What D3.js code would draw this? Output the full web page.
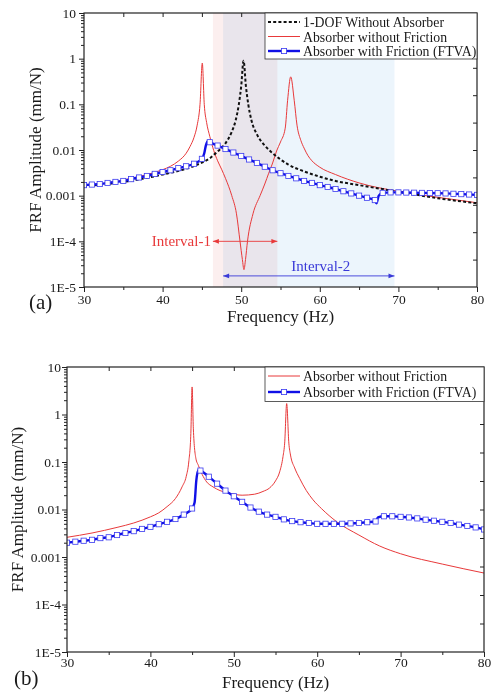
<!DOCTYPE html>
<html lang="en">
<head>
<meta charset="UTF-8">
<title>FRF Amplitude</title>
<script src="https://cdn.jsdelivr.net/npm/d3@7"></script>
<style>
  body { margin: 0; background: #fff; }
  svg text { font-family: "Liberation Serif", "Times New Roman", serif; fill: #1a1a1a; }
</style>
</head>
<body>
<div id="container"></div>
<script>
// ---- data ----
// x tick labels (Hz) and y decades
const xTicks = [30, 40, 50, 60, 70, 80];
const yTicks = [10, 1, 0.1, 0.01, 0.001, 1e-4, 1e-5];
const yTickLabels = ["10", "1", "0.1", "0.01", "0.001", "1E-4", "1E-5"];

// panel (a): 1-DOF without absorber
const aDofFreq = [30, 35, 40, 43, 45, 46, 47, 48, 48.8, 49.3, 49.7, 50.0, 50.3, 50.6, 50.9, 51.3, 52, 53, 54, 55, 56, 58, 60, 62, 65, 70, 75, 80];
const aDofAmp = [0.0016, 0.002, 0.0029, 0.0039, 0.0053, 0.0066, 0.0093, 0.014, 0.025, 0.045, 0.1, 0.25, 0.9, 0.25, 0.1, 0.045, 0.022, 0.0125, 0.0085, 0.0062, 0.0048, 0.0034, 0.0026, 0.0021, 0.0017, 0.00122, 0.00088, 0.00068];

// panel (a): absorber without friction
const aRedFreq = [30, 33, 36, 38, 40, 41, 42, 43, 43.5, 44, 44.4, 44.76, 45.05, 45.3, 45.6, 46, 46.5, 47, 47.5, 48, 48.8, 49.4, 49.85, 50.15, 50.35, 50.55, 50.8, 51.5, 52.4, 53, 53.5, 54, 54.5, 55, 55.6, 55.9, 56.3, 56.75, 57.1, 57.6, 58, 58.5, 59, 60, 62, 65, 70, 75, 80];
const aRedAmp = [0.0017, 0.0019, 0.0024, 0.0029, 0.0037, 0.0044, 0.0057, 0.0085, 0.012, 0.019, 0.035, 0.1, 0.8, 0.1, 0.04, 0.02, 0.0098, 0.0058, 0.0038, 0.0024, 0.001, 0.0004, 0.0001, 0.00004, 0.000024, 0.00004, 0.0001, 0.0004, 0.001, 0.0018, 0.0031, 0.0052, 0.0095, 0.015, 0.03, 0.12, 0.4, 0.12, 0.035, 0.016, 0.011, 0.0075, 0.0058, 0.0042, 0.0029, 0.0019, 0.00124, 0.00092, 0.0007];

// panel (a): absorber with friction (FTVA)
const aBlueFreq = [30, 31, 32, 33, 34, 35, 36, 37, 38, 39, 40, 41, 42, 43, 44, 45, 45.3, 45.5, 45.75, 46, 47, 48, 49, 50, 51, 52, 53, 54, 55, 56, 57, 58, 59, 60, 61, 62, 63, 64, 65, 66, 67, 67.2, 67.5, 68, 69, 70, 71, 72, 73, 74, 75, 76, 77, 78, 79, 80];
const aBlueAmp = [0.0017, 0.00175, 0.0018, 0.0019, 0.002, 0.0021, 0.0023, 0.0025, 0.0027, 0.003, 0.0033, 0.0036, 0.004, 0.0044, 0.005, 0.0064, 0.0085, 0.0125, 0.0155, 0.0148, 0.0125, 0.0105, 0.0088, 0.0074, 0.0062, 0.0052, 0.0043, 0.0036, 0.0031, 0.0027, 0.0024, 0.0021, 0.0019, 0.0017, 0.00155, 0.0014, 0.00125, 0.00112, 0.001, 0.0009, 0.0008, 0.00068, 0.001, 0.00115, 0.00118, 0.00118, 0.00117, 0.00116, 0.00115, 0.00114, 0.00113, 0.00112, 0.0011, 0.00108, 0.00106, 0.00104];

// panel (b): absorber without friction
const bRedFreq = [30, 33, 36, 38, 40, 41, 42, 43, 43.8, 44.3, 44.6, 44.85, 45.0, 45.15, 45.45, 45.75, 46.2, 46.75, 47.5, 48.35, 49.5, 51, 52.5, 53.5, 54.3, 55, 55.5, 55.9, 56.1, 56.34, 56.6, 56.8, 57.3, 57.9, 58.7, 59.5, 60.5, 62.35, 65, 67.5, 70, 75, 80];
const bRedAmp = [0.0026, 0.0032, 0.0042, 0.0052, 0.007, 0.0085, 0.0115, 0.017, 0.03, 0.05, 0.1, 0.4, 3.8, 0.5, 0.12, 0.085, 0.055, 0.038, 0.03, 0.025, 0.022, 0.02, 0.021, 0.024, 0.0285, 0.04, 0.062, 0.13, 0.25, 1.7, 0.25, 0.14, 0.075, 0.045, 0.025, 0.016, 0.0105, 0.0055, 0.0029, 0.0017, 0.00117, 0.00071, 0.00046];

// panel (b): absorber with friction (FTVA)
const bBlueFreq = [30, 31, 32, 33, 34, 35, 36, 37, 38, 39, 40, 41, 42, 43, 44, 45, 45.3, 45.5, 45.75, 46, 47, 48, 49, 50, 51, 52, 53, 54, 55, 56, 57, 58, 59, 60, 61, 62, 63, 64, 65, 66, 67, 67.3, 68, 69, 70, 71, 72, 73, 74, 75, 76, 77, 78, 79, 80];
const bBlueAmp = [0.002, 0.0021, 0.0022, 0.0023, 0.0025, 0.0026, 0.0029, 0.0032, 0.0035, 0.0039, 0.0043, 0.0049, 0.0055, 0.0063, 0.0078, 0.0105, 0.014, 0.04, 0.068, 0.066, 0.049, 0.035, 0.025, 0.019, 0.0145, 0.011, 0.009, 0.0078, 0.007, 0.0062, 0.0057, 0.0054, 0.0052, 0.005, 0.005, 0.005, 0.005, 0.0051, 0.0052, 0.0054, 0.0056, 0.0068, 0.0072, 0.0072, 0.007, 0.0068, 0.0065, 0.0061, 0.0058, 0.0055, 0.0052, 0.0048, 0.0045, 0.0042, 0.0038];

// intervals in panel (a): [start Hz, end Hz, arrow level]
const intervalNames = ["Interval-1", "Interval-2"];
const intervalStart = [46.4, 47.7];
const intervalEnd = [54.6, 69.5];
const intervalLevel = [1e-4, 1.75e-5];

const legendA = ["1-DOF Without Absorber", "Absorber without  Friction", "Absorber with Friction (FTVA)"];
const legendB = ["Absorber without  Friction", "Absorber with Friction (FTVA)"];

// ---- styles ----
const styles = {
  dof: { color: "#111", width: 2, dash: "3,2.2" },
  red: { color: "#e8393a", width: 1, dash: null },
  blue: { color: "#1010e6", width: 2.4, dash: null }
};

const W = 492, H = 693;
const svg = d3.select("#container").append("svg").attr("width", W).attr("height", H);

function zip(f, a) { return f.map((v, i) => ({ f: v, a: a[i] })); }

function drawPanel(p) {
  const x = d3.scaleLinear([30, 80], [p.left, p.right]);
  const y = d3.scaleLog([1e-5, 10], [p.bottom, p.top]);
  const g = svg.append("g");
  const clipId = "clip-" + p.name;
  g.append("clipPath").attr("id", clipId).append("rect")
    .attr("x", p.left).attr("y", p.top).attr("width", p.right - p.left).attr("height", p.bottom - p.top);

  // shaded intervals (panel a)
  if (p.intervals) {
    const fills = ["#fcefef", "#ecf5fc"];
    intervalNames.forEach((n, i) => {
      g.append("rect").attr("x", x(intervalStart[i])).attr("y", p.top)
        .attr("width", x(intervalEnd[i]) - x(intervalStart[i])).attr("height", p.bottom - p.top)
        .attr("fill", fills[i]).style("mix-blend-mode", "multiply");
    });
  }

  const line = d3.line().x(d => x(d.f)).y(d => y(d.a)).curve(d3.curveMonotoneX);
  const plot = g.append("g").attr("clip-path", `url(#${clipId})`);
  p.series.forEach(s => {
    const st = styles[s.kind];
    plot.append("path").datum(s.data).attr("fill", "none").attr("stroke", st.color)
      .attr("stroke-width", st.width).attr("stroke-dasharray", st.dash).attr("stroke-linejoin", "round")
      .attr("d", line);
    if (s.kind === "blue") {
      plot.selectAll(null).data(s.data.filter(d => Number.isInteger(d.f))).enter().append("rect")
        .attr("x", d => x(d.f) - 2.6).attr("y", d => y(d.a) - 2.6).attr("width", 5.2).attr("height", 5.2)
        .attr("fill", "#fff").attr("stroke", "#3a3af0").attr("stroke-width", 0.8);
    }
  });

  // interval arrows and labels
  if (p.intervals) {
    const cols = ["#e8393a", "#3a3ad8"];
    intervalNames.forEach((n, i) => {
      const yy = y(intervalLevel[i]), x0 = x(intervalStart[i]), x1 = x(intervalEnd[i]);
      g.append("line").attr("x1", x0).attr("x2", x1).attr("y1", yy).attr("y2", yy)
        .attr("stroke", cols[i]).attr("stroke-width", 0.9);
      [[x0, 1], [x1, -1]].forEach(([ax, dir]) => {
        g.append("path").attr("d", `M${ax},${yy}l${dir * 6},-2.3l0,4.6z`).attr("fill", cols[i]);
      });
      if (i === 0) {
        g.append("text").attr("x", x0 - 2).attr("y", yy + 5).attr("text-anchor", "end")
          .attr("font-size", 15).style("fill", cols[i]).text(n);
      } else {
        g.append("text").attr("x", (x0 + x1) / 2 + 12).attr("y", yy - 5).attr("text-anchor", "middle")
          .attr("font-size", 15).style("fill", cols[i]).text(n);
      }
    });
  }

  // frame
  g.append("rect").attr("x", p.left).attr("y", p.top).attr("width", p.right - p.left).attr("height", p.bottom - p.top)
    .attr("fill", "none").attr("stroke", "#222").attr("stroke-width", 1.2);

  // bottom axis
  g.append("g").attr("transform", `translate(0,${p.bottom})`)
    .call(d3.axisBottom(x).tickValues(xTicks).tickSize(5).tickPadding(p.xPad).tickFormat(d3.format("d")));
  g.append("g").attr("transform", `translate(0,${p.bottom})`)
    .call(d3.axisBottom(x).tickValues([35, 45, 55, 65, 75]).tickSize(3).tickFormat(""));
  // top axis, ticks inward
  g.append("g").attr("transform", `translate(0,${p.top})`)
    .call(d3.axisTop(x).tickValues([35, 40, 45, 50, 55, 60, 65, 70, 75]).tickSize(-4).tickFormat(""));
  // left axis
  g.append("g").attr("transform", `translate(${p.left},0)`)
    .call(d3.axisLeft(y).tickValues(yTicks).tickSize(5).tickPadding(p.yPad).tickFormat((d, i) => yTickLabels[i]));
  const minor = [];
  yTicks.slice(1).forEach(dec => { for (let k = 2; k <= 9; k++) minor.push(dec * k); });
  g.append("g").attr("transform", `translate(${p.left},0)`)
    .call(d3.axisLeft(y).tickValues(minor).tickSize(3).tickFormat(""));
  // right axis: ten even divisions, inward
  const yr = d3.scaleLinear([0, 10], [p.bottom, p.top]);
  g.append("g").attr("transform", `translate(${p.right},0)`)
    .call(d3.axisRight(yr).tickValues(d3.range(1, 10)).tickSize(-4).tickFormat(""));
  g.selectAll(".domain").remove();
  g.selectAll(".tick line").attr("stroke", "#222").attr("stroke-width", 1);
  g.selectAll(".tick text").attr("font-size", 13.5).style("font-family", "'Liberation Serif', serif").style("fill", "#1a1a1a");

  // axis titles
  g.append("text").attr("x", (p.left + p.right) / 2).attr("y", p.xTitleY).attr("text-anchor", "middle")
    .attr("font-size", 17).text("Frequency (Hz)");
  g.append("text").attr("transform", `translate(${p.yTitleX},${(p.top + p.bottom) / 2}) rotate(-90)`)
    .attr("text-anchor", "middle").attr("font-size", 17).text("FRF Amplitude (mm/N)");
  g.append("text").attr("x", p.tagX).attr("y", p.tagY).attr("font-size", 21).text(p.tag);

  // legend
  const lg = g.append("g");
  const rowH = p.legendRowH;
  lg.append("rect").attr("x", p.legendX).attr("y", p.top).attr("width", p.right - p.legendX)
    .attr("height", p.legend.length * rowH + 2.5).attr("fill", "#fff").attr("stroke", "#333").attr("stroke-width", 0.8);
  p.legend.forEach((name, i) => {
    const st = styles[p.legendKinds[i]];
    const cy = p.top + 9 + i * rowH;
    lg.append("line").attr("x1", p.legendX + 3).attr("x2", p.legendX + 35).attr("y1", cy).attr("y2", cy)
      .attr("stroke", st.color).attr("stroke-width", st.width).attr("stroke-dasharray", st.dash);
    if (p.legendKinds[i] === "blue") {
      lg.append("rect").attr("x", p.legendX + 16.4).attr("y", cy - 2.6).attr("width", 5.2).attr("height", 5.2)
        .attr("fill", "#fff").attr("stroke", "#3a3af0").attr("stroke-width", 0.8);
    }
    lg.append("text").attr("x", p.legendX + 38).attr("y", cy + 5).attr("font-size", 13.8).text(name);
  });
}

drawPanel({
  name: "a", left: 84, right: 477, top: 13, bottom: 287, xPad: 2, yPad: 3,
  xTitleY: 322, yTitleX: 41, tag: "(a)", tagX: 29, tagY: 309,
  intervals: true,
  legend: legendA, legendKinds: ["dof", "red", "blue"], legendX: 265, legendRowH: 14.5,
  series: [
    { kind: "red", data: zip(aRedFreq, aRedAmp) },
    { kind: "dof", data: zip(aDofFreq, aDofAmp) },
    { kind: "blue", data: zip(aBlueFreq, aBlueAmp) }
  ]
});

drawPanel({
  name: "b", left: 67, right: 484, top: 367, bottom: 652, xPad: 0, yPad: 1,
  xTitleY: 688, yTitleX: 23, tag: "(b)", tagX: 14, tagY: 685,
  intervals: false,
  legend: legendB, legendKinds: ["red", "blue"], legendX: 265, legendRowH: 16,
  series: [
    { kind: "red", data: zip(bRedFreq, bRedAmp) },
    { kind: "blue", data: zip(bBlueFreq, bBlueAmp) }
  ]
});
</script>
</body>
</html>
